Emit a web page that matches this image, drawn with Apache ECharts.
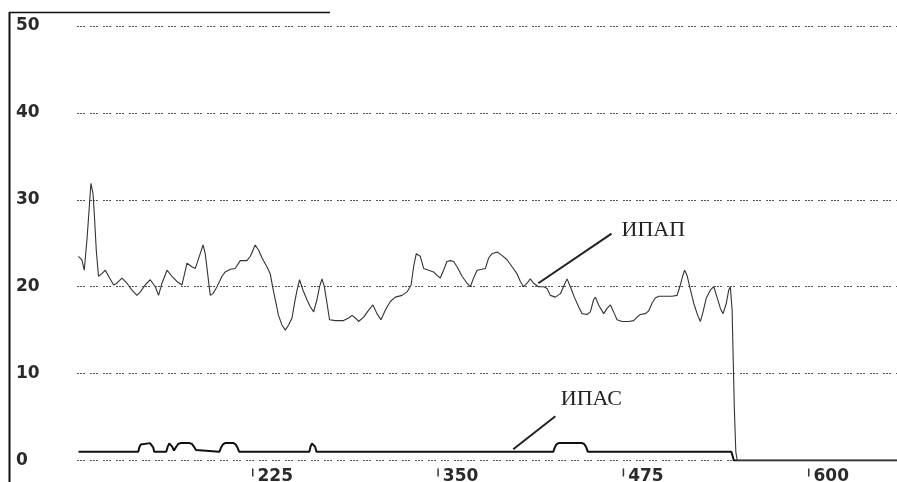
<!DOCTYPE html>
<html><head><meta charset="utf-8">
<script src="https://cdn.jsdelivr.net/npm/echarts@6/dist/echarts.min.js"></script>
<style>html,body{margin:0;padding:0;background:#fff}#c{width:897px;height:482px}</style>
</head><body><div id="c"></div><script>
// ИПАП series (x = time, y = value)
const ipapX = [108.0,110.3,111.9,113.7,114.8,116.4,117.8,118.8,120.0,121.5,
123.8,126.1,128.3,131.7,133.9,137.3,140.7,144.1,147.4,149.7,
153.0,156.4,159.8,162.0,164.3,167.7,171.0,174.4,177.8,181.2,
184.5,186.8,190.1,192.0,193.5,195.1,196.9,198.7,201.4,204.8,
207.0,210.4,213.7,217.1,221.6,223.9,227.2,229.5,231.8,235.1,
237.3,238.9,240.7,242.9,245.2,247.5,249.7,252.0,253.7,255.4,
257.1,259.4,262.1,264.3,266.6,268.8,270.6,272.2,273.8,275.6,
277.3,281.2,286.8,290.2,292.5,294.7,296.9,300.3,303.7,306.6,
309.3,312.0,314.9,318.3,321.7,326.2,329.6,332.3,334.0,335.8,
336.7,338.5,340.8,344.1,347.5,349.8,352.0,354.2,356.5,358.8,
361.0,363.3,366.7,370.0,372.2,374.5,376.8,380.1,382.4,384.6,
386.9,390.3,393.6,397.0,400.4,403.7,406.0,408.2,410.5,412.7,
414.9,418.3,421.7,424.0,426.2,429.6,433.0,435.6,437.5,439.7,
442.4,445.3,447.6,451.0,453.2,455.4,456.6,458.8,462.2,464.5,
466.7,468.9,471.2,474.6,479.0,482.4,484.7,486.9,490.3,492.5,
494.8,497.0,499.3,508.3,511.7,513.9,515.4,516.8,518.4,520.2,
522.9,525.6,527.4,529.2,531.4,534.1,536.4,538.6,540.9,542.7,
544.9,546.5,547.6,548.8,549.4,550.3,551.3,552.3,660.3];
const ipapY = [23.5,23.1,21.9,25.4,28,31.9,30.7,28,24.2,21.2,
21.5,21.9,21.2,20.2,20.4,21,20.4,19.6,19,19.4,
20.2,20.8,20,19,20.4,21.9,21.2,20.6,20.2,22.7,
22.3,22.1,23.8,24.8,23.8,21.5,19,19.2,20,21.2,
21.7,22,22.1,23,23,23.5,24.8,24.2,23.3,22.3,
21.5,20,18.5,16.7,15.6,15,15.6,16.4,18.1,19.6,
20.8,19.6,18.5,17.7,17.1,18.5,20,20.9,20,18.1,
16.2,16.1,16.1,16.4,16.7,16.4,16,16.5,17.3,17.9,
16.9,16.2,17.3,18.3,18.8,19,19.4,20.2,22.3,23.8,
24,23.5,22.1,21.9,21.7,21.3,21,21.9,22.9,23,
22.9,22.3,21.2,20.4,20,21,21.9,22,22.1,23.3,
23.8,24,23.6,23.1,22.3,21.5,20.6,20,20.4,20.9,
20.4,20,20,19.8,19,18.8,19.2,20.2,20.9,20,
18.8,17.7,16.9,16.8,17.1,18.5,18.8,17.9,16.9,17.5,
17.9,17.1,16.2,16,16,16.1,16.5,16.8,16.9,17.2,
18.1,18.7,18.9,18.9,19,20.2,21.2,21.9,21.3,20,
18.1,16.7,16,17.1,18.7,19.6,20,18.8,17.5,16.9,
18.1,19.6,20,17.3,12.7,6,1,0,0];

// ИПАС series
const ipasX = [108.0,148.3,149.0,150.0,151.2,156.2,157.4,158.4,159.1,
167.2,168.2,169.2,170.2,171.2,172.4,
174.0,175.2,176.8,183.0,184.6,185.8,187.2,188.1,
203.0,204.2,205.4,206.8,212.6,214.0,215.2,216.4,
263.7,264.5,265.5,266.6,267.5,268.5,
428.2,429.2,430.3,431.8,447.8,449.3,450.5,451.5,
548.3,550.0,660.3];
const ipasY = [1,1,1.5,1.85,2,2,1.85,1.5,1,
1,1.6,1.95,1.95,1.6,1.15,
1.6,1.9,2,2,1.9,1.6,1.2,1,
1,1.5,1.85,2,2,1.85,1.5,1,
1,1.6,1.95,1.95,1.6,1,
1,1.5,1.85,2,2,1.85,1.5,1,
1,0,0];

const xTickValues = [225, 350, 475, 600];
const xRange = [107, 660];
const yRange = [0, 50];
const yStep = 10;

// annotation anchors (data space)
const ipapNote = {label: 'ИПАП', from: [418.1, 20.4], to: [467.5, 26.1], text: [495.7, 26.5]};
const ipasNote = {label: 'ИПАС', from: [401.2, 1.3], to: [429.6, 5.1], text: [453.9, 7.0]};

const zip = (xs, ys) => xs.map((x, i) => [x, ys[i]]);

const chart = echarts.init(document.getElementById('c'), null, {renderer: 'canvas'});
const gridStyle = {type: [2, 1, 2, 1, 2, 5], color: '#555', width: 1};
const labelFont = {fontFamily: 'DejaVu Sans', fontWeight: 'bold', fontSize: 17, color: '#2a2a2a'};

chart.setOption({
  animation: false,
  backgroundColor: '#fff',
  grid: {left: 77, right: 0, top: 26, bottom: 21.5, outerBoundsMode: 'none', containLabel: false},
  xAxis: {
    type: 'value', min: xRange[0], max: xRange[1],
    axisLine: {show: false},
    splitLine: {show: false},
    axisTick: {show: false},
    axisLabel: {
      customValues: xTickValues, align: 'left', margin: 8, verticalAlign: 'top',
      formatter: v => '{t|}{n|' + v + '}',
      rich: {
        t: {width: 1.5, height: 8, backgroundColor: '#333', verticalAlign: 'top'},
        n: Object.assign({padding: [0, 0, 0, 4], lineHeight: 17, verticalAlign: 'top'}, labelFont)
      }
    }
  },
  yAxis: {
    type: 'value', min: yRange[0], max: yRange[1], interval: yStep,
    axisLine: {show: false}, axisTick: {show: false},
    splitLine: {show: true, lineStyle: gridStyle},
    axisLabel: Object.assign({align: 'left', margin: 61, padding: [0, 0, 4, 0]}, labelFont)
  },
  series: [
    {name: 'ИПАС', type: 'line', data: zip(ipasX, ipasY), showSymbol: false, symbol: 'none',
     lineStyle: {color: '#111', width: 2}, z: 3},
    {name: 'ИПАП', type: 'line', data: zip(ipapX, ipapY), showSymbol: false, symbol: 'none',
     lineStyle: {color: '#333', width: 1.1}, z: 4}
  ]
});

const px = (v) => chart.convertToPixel({gridIndex: 0}, v);
const noteGraphics = [];
[ipapNote, ipasNote].forEach(n => {
  const a = px(n.from), b = px(n.to), t = px(n.text);
  noteGraphics.push({type: 'line', shape: {x1: a[0], y1: a[1], x2: b[0], y2: b[1]},
    style: {stroke: '#222', lineWidth: 2}, z: 10});
  noteGraphics.push({type: 'text', x: t[0], y: t[1],
    style: {text: n.label, font: '22px "Liberation Serif"', fill: '#222', align: 'center', verticalAlign: 'middle'}, z: 10});
});
// frame of the original plot
noteGraphics.push({type: 'line', shape: {x1: 9.5, y1: 12, x2: 9.5, y2: 482}, style: {stroke: '#111', lineWidth: 2}});
noteGraphics.push({type: 'line', shape: {x1: 9, y1: 12.5, x2: 330, y2: 12.5}, style: {stroke: '#111', lineWidth: 1.5}});
chart.setOption({graphic: {elements: noteGraphics}});
</script></body></html>
